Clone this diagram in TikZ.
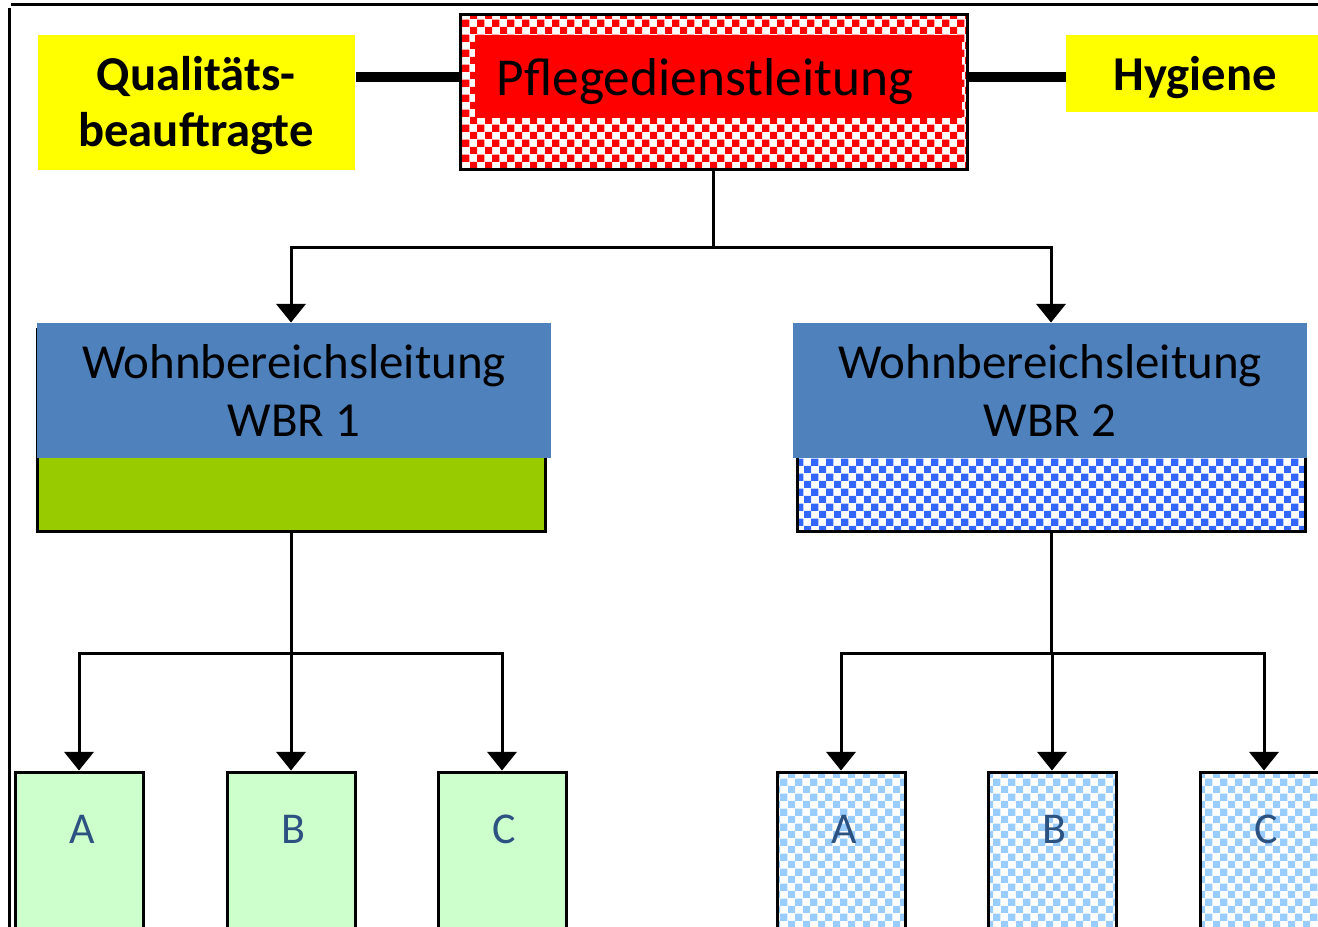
\documentclass[tikz,border=0pt]{standalone}
\usepackage{fontspec}
\setmainfont{Carlito}
\usetikzlibrary{patterns,arrows.meta}

\definecolor{qmyellow}{RGB}{255,255,0}
\definecolor{pdlred}{RGB}{255,0,0}
\definecolor{wbrblue}{RGB}{79,129,189}
\definecolor{wbrgreen}{RGB}{153,204,0}
\definecolor{wbrcheck}{RGB}{51,102,255}
\definecolor{leafgreen}{RGB}{204,255,204}
\definecolor{leafcheck}{RGB}{153,204,255}
\definecolor{leaftext}{RGB}{44,82,130}

\tikzset{every picture/.style={line width=0.75pt}}

\begin{document}
\begin{tikzpicture}[x=0.75pt,y=0.75pt,yscale=-1,xscale=1,
  box/.style={draw=black,line width=2.25pt,inner sep=0pt},
  link/.style={line width=2.25pt},
  thicklink/.style={line width=7.5pt},
  arr/.style={link,-{Triangle[width=22pt,length=14pt]}},
  side/.style={fill=qmyellow,inner sep=0pt},
  sidetxt/.style={inner sep=0pt,align=center,font=\fontsize{36.5}{42}\selectfont\bfseries},
  head/.style={fill=wbrblue,inner sep=0pt,align=center,minimum width=385.5pt,minimum height=101.25pt,font=\fontsize{36.7}{43.5}\selectfont},
  leaf/.style={box,minimum width=96pt,minimum height=127.5pt},
  lettr/.style={inner sep=0pt,text=leaftext,font=\fontsize{33}{40}\selectfont}]
    \useasboundingbox (0,0) rectangle (1318,927);

    %Shape: frame lines
    \draw [link] (11,5) -- (1318,5) ;
    \draw [link] (9,8) -- (9,927) ;

    %Shape: Pflegedienstleitung
    \node [box,pattern=checkerboard,pattern color=pdlred,minimum width=380.25pt,minimum height=116.25pt] (pdl) at (713.5,92.5) {};
    \node [fill=pdlred,inner sep=0pt,minimum width=365.25pt,minimum height=62.25pt] (pdlin) at (718.5,77) {};
    % Text Node
    \node [inner sep=0pt,font=\fontsize{40}{48}\selectfont] (pdltxt) at (705,82) {Pflegedienstleitung};

    %Shape: side boxes
    \node [side,minimum width=237.75pt,minimum height=101.25pt] (qm) at (196.5,102.5) {};
    \node [side,minimum width=195pt,minimum height=57.75pt] (hyg) at (1196,73.5) {};
    % Text Node
    \node [sidetxt] (qmtxt) at (196,106) {Qualitäts-\\beauftragte};
    \node [sidetxt] (hygtxt) at (1195,78) {Hygiene};

    %Straight Lines: side links
    \draw [thicklink] (qm.east |- pdlin) -- (pdl.west |- pdlin) ;
    \draw [thicklink] (pdl.east |- pdlin) -- (hyg.west |- pdlin) ;

    %Shape: Wohnbereiche
    \node [box,fill=wbrgreen,minimum width=381pt,minimum height=150.75pt] (wbr1box) at (291,430.5) {};
    \node [head] (wbr1) at (294,390.5) {Wohnbereichsleitung\\WBR 1};
    \node [box,pattern=checkerboard,pattern color=wbrcheck,minimum width=381pt,minimum height=150.75pt] (wbr2box) at (1051,430.5) {};
    \node [head] (wbr2) at (1050,390.5) {Wohnbereichsleitung\\WBR 2};

    %Arrows: Pflegedienstleitung to Wohnbereiche
    \draw [arr] (pdl.south) -- ++(0,76) -| (wbr1box.north |- wbr1.north) ;
    \draw [arr] (pdl.south) -- ++(0,76) -| (wbr2box.north |- wbr2.north) ;

    %Shape: groups WBR 1
    \node [leaf,fill=leafgreen] (l1a) at (79,857) {};
    \node [leaf,fill=leafgreen] (l1b) at (291,857) {};
    \node [leaf,fill=leafgreen] (l1c) at (502,857) {};
    %Shape: groups WBR 2
    \node [leaf,pattern=checkerboard,pattern color=leafcheck] (l2a) at (841,857) {};
    \node [leaf,pattern=checkerboard,pattern color=leafcheck] (l2b) at (1052,857) {};
    \node [leaf,pattern=checkerboard,pattern color=leafcheck] (l2c) at (1264,857) {};

    % Text Node
    \node [lettr] (t1a) at (82,829) {A};
    \node [lettr] (t1b) at (293,829) {B};
    \node [lettr] (t1c) at (504,829) {C};
    \node [lettr] (t2a) at (844,829) {A};
    \node [lettr] (t2b) at (1054,829) {B};
    \node [lettr] (t2c) at (1266,829) {C};

    %Arrows: Wohnbereiche to groups
    \foreach \g in {l1a,l1b,l1c}
      \draw [arr] (wbr1box.south) -- ++(0,121) -| (\g.north) ;
    \foreach \g in {l2a,l2b,l2c}
      \draw [arr] (wbr2box.south) -- ++(0,121) -| (\g.north) ;

\end{tikzpicture}
\end{document}
